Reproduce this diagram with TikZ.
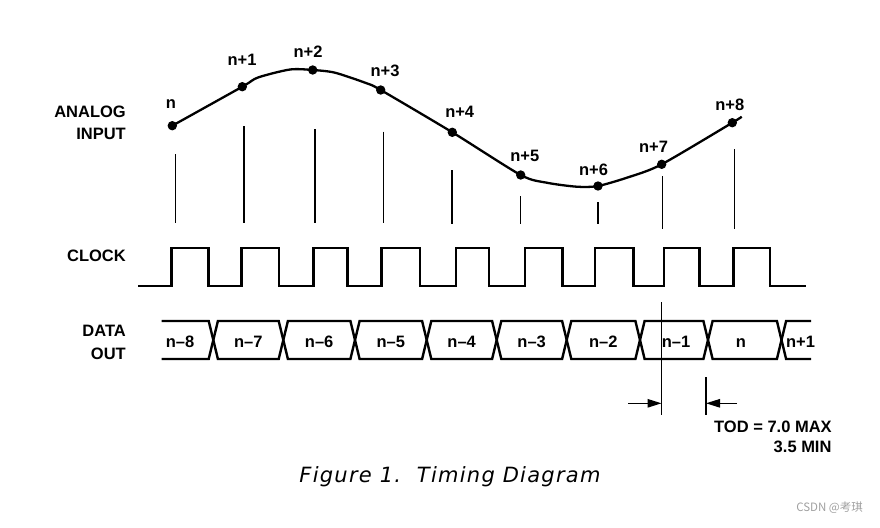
\documentclass[tikz,border=0pt]{standalone}
\usepackage{fontspec}
\setmainfont{Liberation Sans}
\newfontfamily\capfont[LetterSpace=6]{DejaVu Sans}
\newfontfamily\cjkfont{Noto Sans CJK SC}
\usetikzlibrary{arrows.meta}
\definecolor{wm}{HTML}{A0A0A0}
\begin{document}
\begin{tikzpicture}[x=1pt,y=-1pt,
  lbl/.style={font=\fontsize{16.5}{17}\selectfont\bfseries, inner sep=0pt},
  curve/.style={line width=2.3pt, line join=round},
  sample/.style={line width=1.2pt},
  clk/.style={line width=2.6pt, line join=miter},
  bus/.style={line width=2.4pt, line join=miter},
  thin/.style={line width=1.2pt},
  tod/.style={line width=1.2pt, -{Triangle[length=14pt,width=8.5pt]}},
  dot/.style={fill=black}]
\useasboundingbox (0,0) rectangle (880,527);

% left labels
\node[lbl, anchor=base east] (lab1) at (126,117.7) {ANALOG};
\node[lbl, anchor=base east] (lab2) at (126,139.3) {INPUT};
\node[lbl, anchor=base east] (lab3) at (126,261.7) {CLOCK};
\node[lbl, anchor=base east] (lab4) at (126,336.7) {DATA};
\node[lbl, anchor=base east] (lab5) at (126,359) {OUT};

% sample points
\coordinate (p0) at (172.3,125.7);
\coordinate (p1) at (242.3,86.7);
\coordinate (p2) at (312.7,70);
\coordinate (p3) at (380.7,90);
\coordinate (p4) at (452.3,132.3);
\coordinate (p5) at (520.7,175);
\coordinate (p6) at (598,186);
\coordinate (p7) at (661.7,164.3);
\coordinate (p8) at (732.3,122.7);

\draw[curve] plot[smooth, tension=0.45] coordinates {
  (p0) (p1) (258,77.5) (290,69.5) (p2) (335,72.7) (366.7,83.3) (p3)
  (p4) (p5) (546.7,182.7) (576.7,186.7) (p6) (630,176.7) (p7) (p8) (741.7,116.7)};
\foreach \i in {0,...,8} \fill[dot] (p\i) circle[radius=4.7pt];

% sample labels
\node[lbl, anchor=base] (t0) at (171,108.3) {n};
\node[lbl, anchor=base] (t1) at (242,66) {n+1};
\node[lbl, anchor=base] (t2) at (308,57.3) {n+2};
\node[lbl, anchor=base] (t3) at (385,76.7) {n+3};
\node[lbl, anchor=base] (t4) at (459.7,117.3) {n+4};
\node[lbl, anchor=base] (t5) at (524.8,161.7) {n+5};
\node[lbl, anchor=base] (t6) at (593.5,175) {n+6};
\node[lbl, anchor=base] (t7) at (653.5,152.7) {n+7};
\node[lbl, anchor=base] (t8) at (729.8,110) {n+8};

% sample vertical lines
\draw[sample] (175.3,154) -- (175.3,222.7);
\draw[sample] (244,126) -- (244,222.7);
\draw[sample] (315,129) -- (315,222.7);
\draw[sample] (383.3,131.7) -- (383.3,223);
\draw[sample] (452,170) -- (452,224);
\draw[sample] (520.7,196) -- (520.7,224);
\draw[sample] (598,202.3) -- (598,224);
\draw[sample] (662.7,176) -- (662.7,229);
\draw[sample] (734.3,149) -- (734.3,229);

% clock
\draw[clk] (138.3,286)
  -- (171.7,286) |- (208.3,248) |- (241.7,286)
  |- (279,248) |- (313.3,286)
  |- (347.3,248) |- (381.7,286)
  |- (420,248) |- (456,286)
  |- (489,248) |- (525,286)
  |- (562.7,248) |- (595,286)
  |- (633.3,248) |- (664,286)
  |- (699.3,248) |- (733.3,286)
  |- (770,248) |- (806,286);

% data out bus
\def\tp{321}\def\bt{359}\def\md{340}\def\hw{4.6}
\draw[bus] (161.7,\tp) -- (213.3-\hw,\tp) -- (213.3,\md) -- (213.3-\hw,\bt) -- (161.7,\bt);
\foreach \a/\b in {213.3/283.3, 283.3/355, 355/426.7, 426.7/496.7, 496.7/566.7, 566.7/640, 640/708, 708/781.5}
  \draw[bus] (\a+\hw,\tp) -- (\b-\hw,\tp) -- (\b,\md) -- (\b-\hw,\bt) -- (\a+\hw,\bt) -- (\a,\md) -- cycle;
\draw[bus] (811,\tp) -- (781.5+\hw,\tp) -- (781.5,\md) -- (781.5+\hw,\bt) -- (811,\bt);

\node[lbl, anchor=base] (d0) at (180,347) {n–8};
\node[lbl, anchor=base] (d1) at (248.3,347) {n–7};
\node[lbl, anchor=base] (d2) at (319.2,347) {n–6};
\node[lbl, anchor=base] (d3) at (390.8,347) {n–5};
\node[lbl, anchor=base] (d4) at (461.7,347) {n–4};
\node[lbl, anchor=base] (d5) at (531.7,347) {n–3};
\node[lbl, anchor=base] (d6) at (603.3,347) {n–2};
\node[lbl, anchor=base] (d7) at (676,347) {n–1};
\node[lbl, anchor=base] (d8) at (741,347) {n};
\node[lbl, anchor=base] (d9) at (800.5,347) {n+1};

% TOD
\coordinate (v1a) at (661.5,302);
\coordinate (v1b) at (661.5,415);
\coordinate (v2a) at (706,377);
\coordinate (v2b) at (706,415);
\draw[thin] (v1a) -- (v1b);
\draw[thin] (v2a) -- (v2b);
\coordinate (a1s) at (628,403.3);
\coordinate (a1e) at (661.5,403.3);
\coordinate (a2s) at (737,403.3);
\coordinate (a2e) at (706,403.3);
\draw[tod] (a1s) -- (a1e);
\draw[tod] (a2s) -- (a2e);
\node[lbl, anchor=base west] (tod1) at (714,432.7) {TOD = 7.0 MAX};
\node[lbl, anchor=base east] (tod2) at (831.7,452.3) {3.5 MIN};

% caption
\node[anchor=base, inner sep=0pt, font=\capfont\itshape\fontsize{21}{23}\selectfont] (cap) at (450,482) {Figure 1.\ \ Timing Diagram};

% watermark
\node[anchor=base east, inner sep=0pt, text=wm, font=\cjkfont\fontsize{11.5}{12}\selectfont] (wmk) at (863,511.5) {CSDN @考琪};
\end{tikzpicture}
\end{document}
